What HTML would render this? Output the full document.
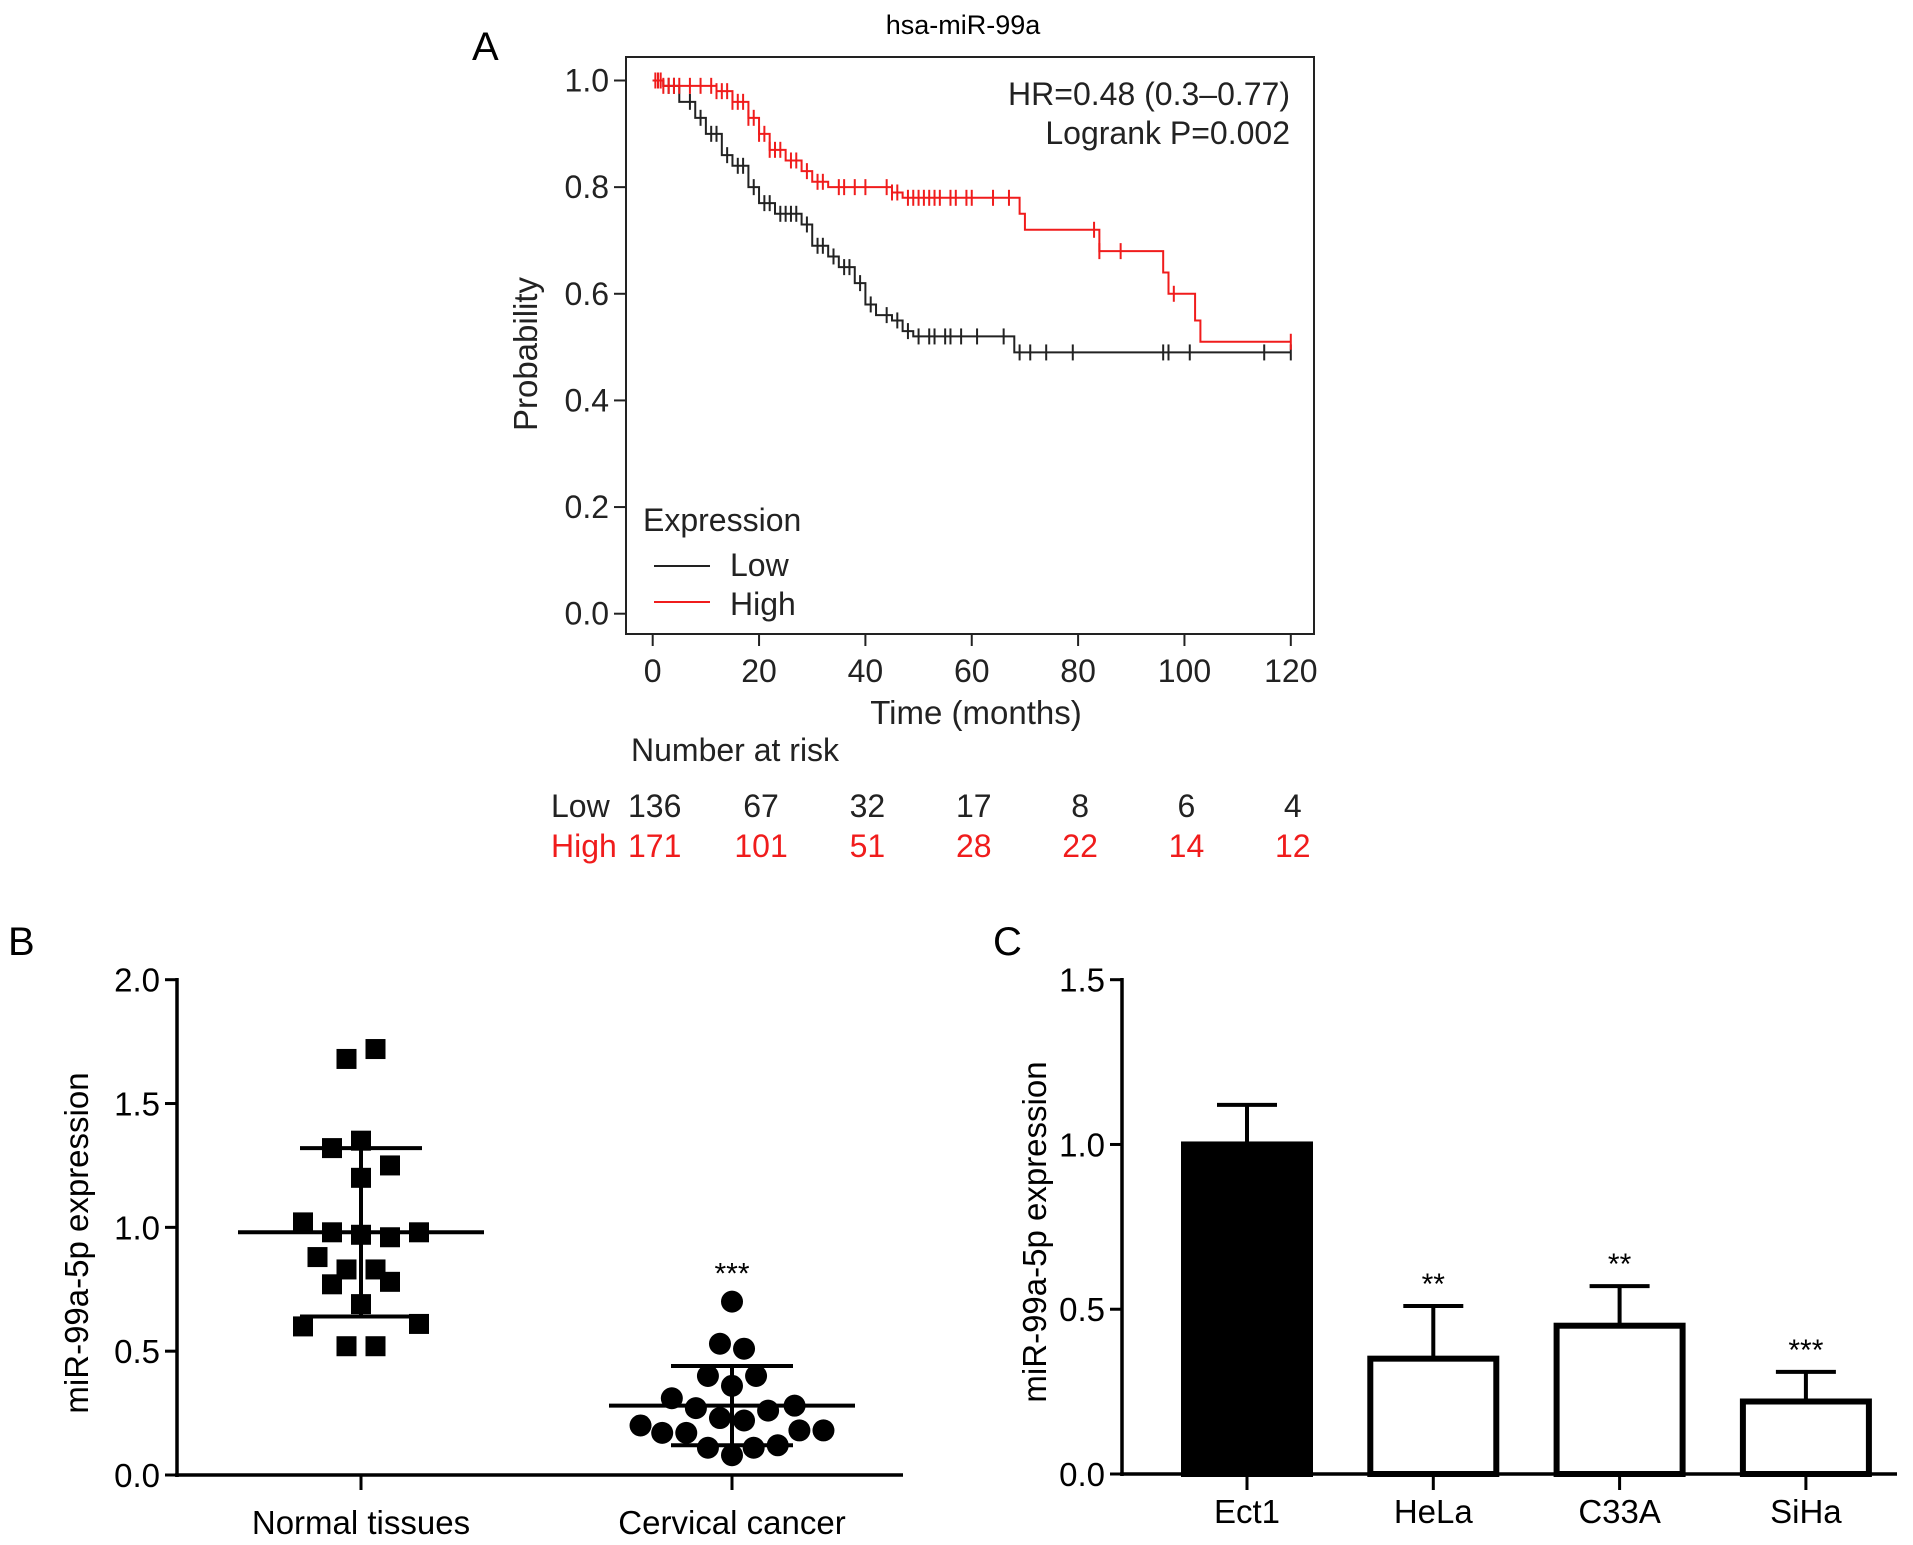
<!DOCTYPE html>
<html><head><meta charset="utf-8"><style>
html,body{margin:0;padding:0;background:#fff;}
svg{display:block;font-family:"Liberation Sans",Arial,sans-serif;}
</style></head><body>
<svg id="fig" width="1913" height="1545" viewBox="0 0 1913 1545" xmlns="http://www.w3.org/2000/svg">
<g id="pa"></g>
<g id="pb"></g>
<g id="pc"></g>
</svg>
<script>
// ---------- Panel A data ----------
const kmTicksX = [0,20,40,60,80,100,120];
const kmTicksY = [0,0.2,0.4,0.6,0.8,1.0];
const lowTimes = [0,2,5,8,10,13,15,18,20,23,28,30,33,35,38,40,42,45,47,49,67,68];
const lowSurv  = [1.0,0.99,0.96,0.93,0.90,0.86,0.84,0.80,0.77,0.75,0.73,0.69,0.67,0.65,0.62,0.58,0.56,0.55,0.53,0.52,0.52,0.49];
const lowCensor = [1,3,4,7,9,11,12,14,16,17,19,21,22,24,25,26,27,29,31,32,34,36,37,39,41,44,46,48,50,52,53,55,56,58,61,66,69,71,74,79,96,97,101,115,120];
const highTimes = [0,2,12,15,18,20,22,25,28,30,33,45,47,68,69,70,83,84,95,96,97,101,102,103];
const highSurv  = [1.0,0.99,0.98,0.96,0.93,0.90,0.87,0.85,0.83,0.81,0.80,0.79,0.78,0.78,0.75,0.72,0.72,0.68,0.68,0.64,0.60,0.60,0.55,0.51];
const highCensor = [0.5,1,1.5,2,3,4,5,7,9,11,12,13,14,15,16,17,18,19,20,21,22,23,24,26,27,29,31,32,35,36,38,40,44,45,46,48,49,50,51,52,53,54,56,57,59,60,64,67,83,84,88,98,120];
const riskTimes = [0,20,40,60,80,100,120];
const riskLow = [136,67,32,17,8,6,4];
const riskHigh = [171,101,51,28,22,14,12];
// ---------- Panel B data ----------
const groupsB = ["Normal tissues","Cervical cancer"];
const normalVals = [1.68,1.72,1.32,1.35,1.25,1.20,1.02,0.98,0.97,0.96,0.98,0.88,0.83,0.83,0.77,0.78,0.69,0.60,0.61,0.52,0.52];
const normalJitter = [-0.5,0.5,-1,0,1,0,-2,-1,0,1,2,-1.5,-0.5,0.5,-1,1,0,-2,2,-0.5,0.5];
const cancerVals = [0.70,0.53,0.51,0.40,0.40,0.36,0.31,0.28,0.27,0.26,0.23,0.22,0.20,0.17,0.17,0.18,0.18,0.11,0.11,0.12,0.08];
const cancerJitter = [0,-0.5,0.5,-1,1,0,-2.5,2.6,-1.5,1.5,-0.5,0.5,-3.8,-2.9,-1.9,2.8,3.8,-1,0.9,1.9,0];
const meanB = [0.98,0.28];
const sdHiB = [1.32,0.44];
const sdLoB = [0.64,0.12];
const ticksB = [0,0.5,1.0,1.5,2.0];
// ---------- Panel C data ----------
const cellLines = ["Ect1","HeLa","C33A","SiHa"];
const barVals = [1.0,0.35,0.45,0.22];
const barErr = [1.12,0.51,0.57,0.31];
const barSig = ["","**","**","***"];
const ticksC = [0,0.5,1.0,1.5];

const NS="http://www.w3.org/2000/svg";
function mk(parent,tag,attrs,text){const e=document.createElementNS(NS,tag);for(const k in attrs)e.setAttribute(k,attrs[k]);if(text!==undefined)e.textContent=text;parent.appendChild(e);return e;}
const fmt=v=>v.toFixed(1);

// ===== Panel A =====
const A=document.getElementById('pa');
const ax=t=>652.7+t/120*(1290.8-652.7);
const ay=p=>613.7-p*(613.7-80.5);
let e;
e=mk(A,'text',{x:472,y:60,'font-size':40,fill:'#000'},'A');
e=mk(A,'text',{x:963,y:34,'font-size':27,'text-anchor':'middle'},'hsa-miR-99a');
e=mk(A,'rect',{x:626,y:57,width:688,height:577,fill:'none',stroke:'#222','stroke-width':2});
kmTicksY.forEach(v=>{mk(A,'line',{x1:614,x2:626,y1:ay(v),y2:ay(v),stroke:'#222','stroke-width':2});
 e=mk(A,'text',{x:609,y:ay(v)+11,'font-size':32,'text-anchor':'end',fill:'#222'},fmt(v));});
kmTicksX.forEach(v=>{mk(A,'line',{x1:ax(v),x2:ax(v),y1:634,y2:646,stroke:'#222','stroke-width':2});
 e=mk(A,'text',{x:ax(v),y:682,'font-size':32,'text-anchor':'middle',fill:'#222'},String(v));});
e=mk(A,'text',{x:976,y:724,'font-size':33,'text-anchor':'middle',fill:'#222'},'Time (months)');
e=mk(A,'text',{x:0,y:0,'font-size':33,'text-anchor':'middle',fill:'#222',transform:'translate(537,354) rotate(-90)'},'Probability');
e=mk(A,'text',{x:1290,y:105,'font-size':32,'text-anchor':'end',fill:'#222'},'HR=0.48 (0.3\u20130.77)');
e=mk(A,'text',{x:1290,y:144,'font-size':32,'text-anchor':'end',fill:'#222'},'Logrank P=0.002');
function stepSurv(times,surv,t){let s=surv[0];for(let i=0;i<times.length;i++){if(times[i]<=t)s=surv[i];}return s;}
function drawKM(times,surv,cens,col,name){
 let d='M'+ax(times[0])+','+ay(surv[0]);
 for(let i=1;i<times.length;i++){d+=' H'+ax(times[i])+' V'+ay(surv[i]);}
 d+=' H'+ax(120);
 const p=mk(A,'path',{d:d,fill:'none',stroke:col,'stroke-width':2});
 
 
 cens.forEach(t=>{const y=ay(stepSurv(times,surv,t));
  const c=mk(A,'line',{x1:ax(t),x2:ax(t),y1:y-8,y2:y+8,stroke:col,'stroke-width':2});
  
  });
}
drawKM(lowTimes,lowSurv,lowCensor,'#222','low');
drawKM(highTimes,highSurv,highCensor,'#f01c1c','high');
e=mk(A,'text',{x:643,y:531,'font-size':32,fill:'#222'},'Expression');
mk(A,'line',{x1:654,x2:710,y1:566,y2:566,stroke:'#222','stroke-width':2});
e=mk(A,'text',{x:730,y:576,'font-size':32,fill:'#222'},'Low');
mk(A,'line',{x1:654,x2:710,y1:602,y2:602,stroke:'#f01c1c','stroke-width':2});
e=mk(A,'text',{x:730,y:615,'font-size':32,fill:'#222'},'High');
e=mk(A,'text',{x:631,y:761,'font-size':32,fill:'#222'},'Number at risk');
e=mk(A,'text',{x:551,y:817,'font-size':32,fill:'#222'},'Low');
e=mk(A,'text',{x:551,y:857,'font-size':32,fill:'#f01c1c'},'High');
riskTimes.forEach((t,i)=>{
 e=mk(A,'text',{x:ax(t)+2,y:817,'font-size':32,'text-anchor':'middle',fill:'#222'},String(riskLow[i]));
 e=mk(A,'text',{x:ax(t)+2,y:857,'font-size':32,'text-anchor':'middle',fill:'#f01c1c'},String(riskHigh[i]));
});

// ===== Panel B =====
const B=document.getElementById('pb');
const by=v=>1475-v/2*(1475-979.7);
const bxC=[361,732];
const jit=29;
e=mk(B,'text',{x:8,y:955,'font-size':40,fill:'#000'},'B');
mk(B,'line',{x1:177,x2:177,y1:978,y2:1477,stroke:'#000','stroke-width':3.5});
mk(B,'line',{x1:175,x2:903,y1:1475,y2:1475,stroke:'#000','stroke-width':3.5});
ticksB.forEach(v=>{mk(B,'line',{x1:165,x2:177,y1:by(v),y2:by(v),stroke:'#000','stroke-width':3});
 e=mk(B,'text',{x:160,y:by(v)+12,'font-size':33,'text-anchor':'end'},fmt(v));});
groupsB.forEach((g,i)=>{mk(B,'line',{x1:bxC[i],x2:bxC[i],y1:1475,y2:1490,stroke:'#000','stroke-width':3});
 e=mk(B,'text',{x:bxC[i],y:1534,'font-size':33,'text-anchor':'middle'},g);});
e=mk(B,'text',{x:0,y:0,'font-size':33,'text-anchor':'middle',transform:'translate(88,1243) rotate(-90)'},'miR-99a-5p expression');
normalVals.forEach((v,i)=>{const s=mk(B,'rect',{x:bxC[0]+normalJitter[i]*jit-10,y:by(v)-10,width:20,height:20,fill:'#000'});
 
 });
cancerVals.forEach((v,i)=>{const c=mk(B,'circle',{cx:bxC[1]+cancerJitter[i]*jit*0.83,cy:by(v),r:11,fill:'#000'});
 
 });
[0,1].forEach(i=>{
 mk(B,'line',{x1:bxC[i]-123,x2:bxC[i]+123,y1:by(meanB[i]),y2:by(meanB[i]),stroke:'#000','stroke-width':4});
 mk(B,'line',{x1:bxC[i]-61,x2:bxC[i]+61,y1:by(sdHiB[i]),y2:by(sdHiB[i]),stroke:'#000','stroke-width':4});
 mk(B,'line',{x1:bxC[i]-61,x2:bxC[i]+61,y1:by(sdLoB[i]),y2:by(sdLoB[i]),stroke:'#000','stroke-width':4});
 mk(B,'line',{x1:bxC[i],x2:bxC[i],y1:by(sdHiB[i]),y2:by(sdLoB[i]),stroke:'#000','stroke-width':4});
});
e=mk(B,'text',{x:bxC[1],y:by(0.70)-18,'font-size':30,'text-anchor':'middle'},'***');

// ===== Panel C =====
const C=document.getElementById('pc');
const cy=v=>1474-v/1.5*(1474-979.7);
const cx=i=>1247+i*186.3;
const bw=126;
e=mk(C,'text',{x:993,y:955,'font-size':40,fill:'#000'},'C');
mk(C,'line',{x1:1122,x2:1122,y1:978,y2:1476,stroke:'#000','stroke-width':3.5});
mk(C,'line',{x1:1120,x2:1897,y1:1474,y2:1474,stroke:'#000','stroke-width':3.5});
ticksC.forEach(v=>{mk(C,'line',{x1:1110,x2:1122,y1:cy(v),y2:cy(v),stroke:'#000','stroke-width':3});
 e=mk(C,'text',{x:1105,y:cy(v)+12,'font-size':33,'text-anchor':'end'},fmt(v));});
e=mk(C,'text',{x:0,y:0,'font-size':33,'text-anchor':'middle',transform:'translate(1046,1232) rotate(-90)'},'miR-99a-5p expression');
cellLines.forEach((n,i)=>{
 mk(C,'line',{x1:cx(i),x2:cx(i),y1:cy(barVals[i]),y2:cy(barErr[i]),stroke:'#000','stroke-width':4});
 mk(C,'line',{x1:cx(i)-30,x2:cx(i)+30,y1:cy(barErr[i]),y2:cy(barErr[i]),stroke:'#000','stroke-width':4});
 const r=mk(C,'rect',{x:cx(i)-bw/2,y:cy(barVals[i]),width:bw,height:1474-cy(barVals[i]),fill:i===0?'#000':'#fff',stroke:'#000','stroke-width':6});
 
 
 mk(C,'line',{x1:cx(i),x2:cx(i),y1:1474,y2:1490,stroke:'#000','stroke-width':3});
 e=mk(C,'text',{x:cx(i),y:1523,'font-size':33,'text-anchor':'middle'},n);
 if(barSig[i]){e=mk(C,'text',{x:cx(i),y:cy(barErr[i])-12,'font-size':30,'text-anchor':'middle'},barSig[i]);}
});
</script>
</body></html>
